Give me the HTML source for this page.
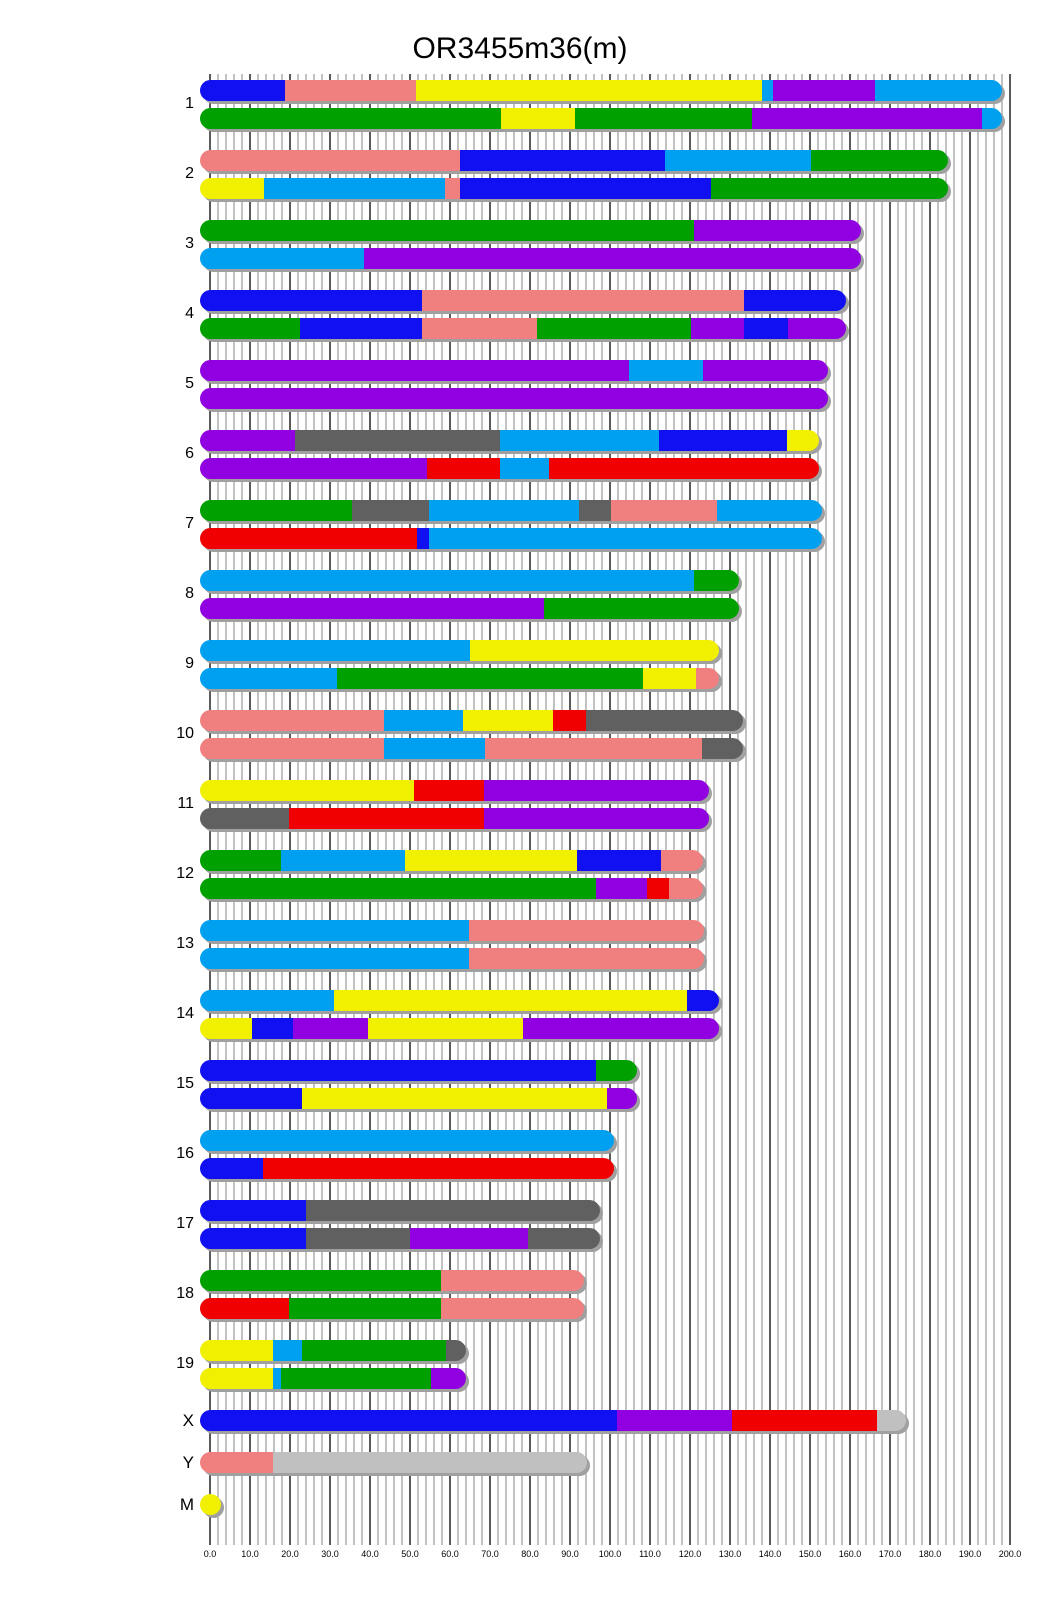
<!DOCTYPE html>
<html><head><meta charset="utf-8"><style>
html,body{margin:0;padding:0;background:#fff}
svg{display:block}
text{font-family:"Liberation Sans",sans-serif}
</style></head><body>
<svg id="s" width="1040" height="1616" xmlns="http://www.w3.org/2000/svg"></svg>
<script>
const C={b:"#1010f0",s:"#f08080",y:"#f0f000",l:"#00a0f0",p:"#9000e0",g:"#00a000",k:"#606060",r:"#f00000",q:"#c0c0c0"};
const f=1.0306;
const D={
"1":["b277 s404 y739 l750 p849 l972","g486 y558 g730 p953 l972"],
"2":["s446 b645 l787 g920","y256 l432 s446 b690 g920"],
"3":["g673 p835","l353 p835"],
"4":["b409 s722 b821","g291 b409 s521 g670 p722 b765 p821"],
"5":["p610 l682 p803","p803"],
"6":["p286 k485 l639 b764 y795","p414 r485 l533 r795"],
"7":["g342 k416 l562 k593 s696 l798","r405 b416 l798"],
"8":["l673 g717","p528 g717"],
"9":["l456 y698","l327 g624 y675 s698"],
"10":["s373 l449 y537 r569 k721","s373 l471 s681 k721"],
"11":["y402 r470 p688","k280 r470 p688"],
"12":["g273 l393 y560 b641 s682","g578 p628 r649 s682"],
"13":["l455 s683","l455 s683"],
"14":["l324 y667 b698","y245 b284 p357 y507 p698"],
"15":["b578 g618","b293 y589 p618"],
"16":["l596","b255 r596"],
"17":["b297 k582","b297 k398 p512 k582"],
"18":["g428 s567","r280 g428 s567"],
"19":["y265 l293 g433 k452","y265 l273 g418 p452"]
};
let h='';
h+='<text x="520" y="58" font-size="30" text-anchor="middle">OR3455m36(m)</text>';
for(let u=0;u<=200;u+=2){const x=210+u*4;const bl=u%10==0;
h+=`<line x1="${x}" y1="74" x2="${x}" y2="1545" stroke="${bl?'#000':'#a0a0a0'}" stroke-width="1.3"/>`;
if(bl)h+=`<text x="${x}" y="1557" font-size="9" text-anchor="middle">${u.toFixed(1)}</text>`;}
let id=0;
function bar(spec,top){
 const segs=spec.split(' ').map(t=>[t[0],Math.round(parseFloat(t.slice(1))*f)]);
 const end=segs[segs.length-1][1];const x0=200,hh=21;
 id++;
 h+=`<rect x="${x0+3}" y="${top+3}" width="${end-x0}" height="${hh}" rx="10.5" fill="#a0a0a0"/>`;
 h+=`<clipPath id="c${id}"><rect x="${x0}" y="${top}" width="${end-x0}" height="${hh}" rx="10.5"/></clipPath><g clip-path="url(#c${id})">`;
 let p=x0;for(const [c,e] of segs){h+=`<rect x="${p}" y="${top}" width="${e-p+0.5}" height="${hh}" fill="${C[c]}"/>`;p=e;}
 h+='</g>';
}
for(let n=1;n<=19;n++){const top=80+70*(n-1);
 bar(D[n][0],top);bar(D[n][1],top+28);
 h+=`<text x="194" y="${top+28}" font-size="16" text-anchor="end">${n}</text>`;}
bar("b599 p710 r851 q879",1410);h+='<text x="194" y="1426" font-size="17" text-anchor="end">X</text>';
bar("s265 q570",1452);h+='<text x="194" y="1468" font-size="17" text-anchor="end">Y</text>';
h+='<circle cx="213.5" cy="1507.5" r="10.5" fill="#a0a0a0"/><circle cx="210.5" cy="1504.5" r="10.5" fill="#f0f000"/>';
h+='<text x="194" y="1510" font-size="17" text-anchor="end">M</text>';
document.getElementById('s').innerHTML=h;
</script>
</body></html>
